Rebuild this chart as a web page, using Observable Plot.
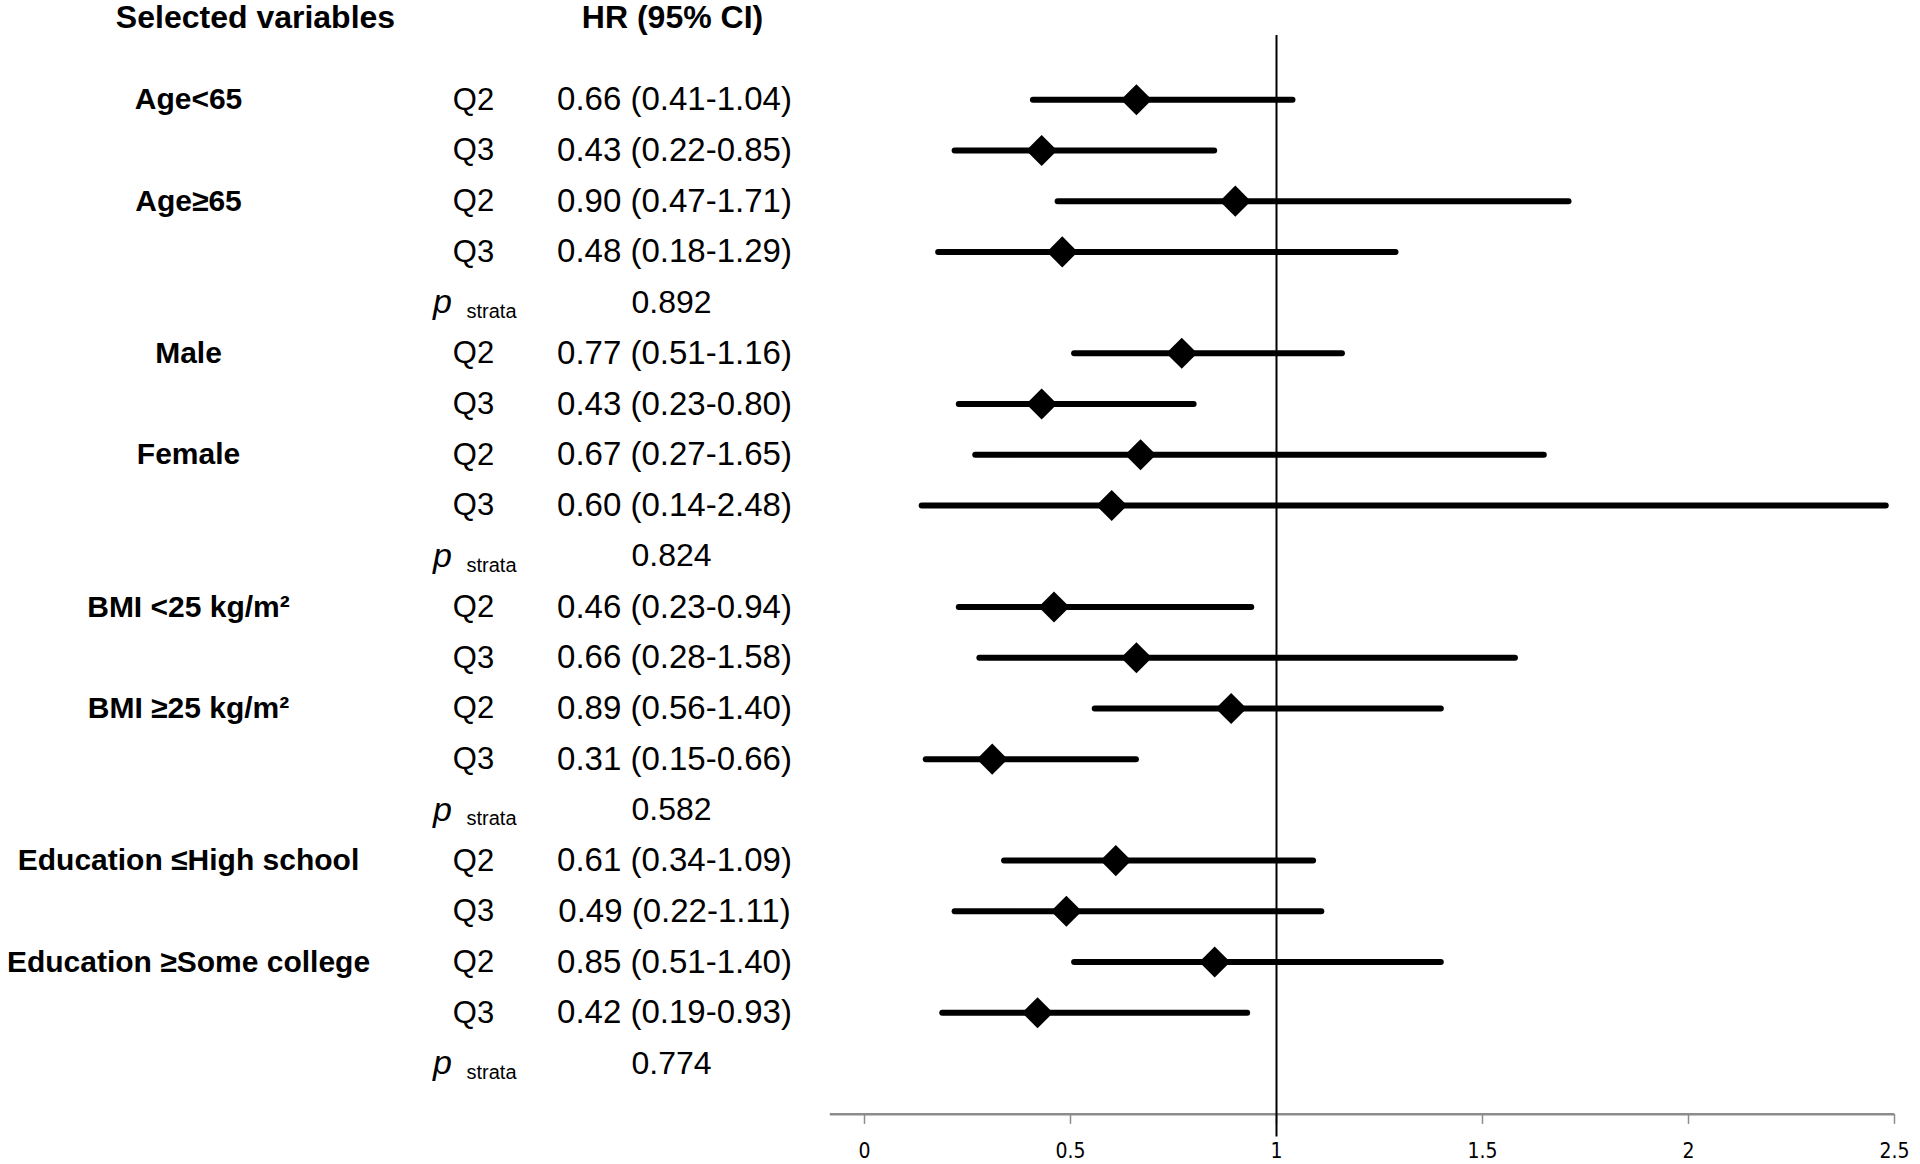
<!DOCTYPE html>
<html>
<head>
<meta charset="utf-8">
<script src="https://cdn.jsdelivr.net/npm/d3@7"></script>
<script src="https://cdn.jsdelivr.net/npm/@observablehq/plot@0.6"></script>
<style>
  html, body { margin: 0; padding: 0; background: #fff; }
  #chart svg { display: block; color: #000; }
</style>
</head>
<body>
<div id="chart"></div>
<script>
// ---- data ----
const groups = ["Age<65", "Age\u226565", "Male", "Female", "BMI <25 kg/m\u00b2", "BMI \u226525 kg/m\u00b2", "Education \u2264High school", "Education \u2265Some college"];
const quartiles = ["Q2", "Q3"];
const hr    = [0.66, 0.43, 0.90, 0.48, 0.77, 0.43, 0.67, 0.60, 0.46, 0.66, 0.89, 0.31, 0.61, 0.49, 0.85, 0.42];
const lower = [0.41, 0.22, 0.47, 0.18, 0.51, 0.23, 0.27, 0.14, 0.23, 0.28, 0.56, 0.15, 0.34, 0.22, 0.51, 0.19];
const upper = [1.04, 0.85, 1.71, 1.29, 1.16, 0.80, 1.65, 2.48, 0.94, 1.58, 1.40, 0.66, 1.09, 1.11, 1.40, 0.93];
const pStrata = ["0.892", "0.824", "0.582", "0.774"];
const headers = ["Selected variables", "HR (95% CI)"];
const xTicks = [0, 0.5, 1, 1.5, 2, 2.5];
const xTickLabels = ["0", "0.5", "1", "1.5", "2", "2.5"];
const axisExtent = [-0.083, 2.5];
const refValue = 1;

// ---- build tables ----
const rows = [];
hr.forEach((v, i) => {
  const g = Math.floor(i / 2), q = i % 2, s = Math.floor(g / 2);
  rows.push({
    row: s * 5 + (g % 2) * 2 + q,
    group: q === 0 ? groups[g] : null,
    quart: quartiles[q],
    hr: v, lo: lower[i], hi: upper[i],
    label: `${v.toFixed(2)} (${lower[i].toFixed(2)}-${upper[i].toFixed(2)})`
  });
});
const groupRows = rows.filter(d => d.group);
const pRows = pStrata.map((p, s) => ({row: s * 5 + 4, p}));
const ticks = xTicks.map((t, i) => ({t, label: xTickLabels[i]}));

const SANS = "'Liberation Sans', Arial, Helvetica, sans-serif";
const AXISF = "'DejaVu Sans Condensed', 'DejaVu Sans', sans-serif";
const axisRow = 20, headerRow = -1.62;

const chart = Plot.plot({
  width: 1920,
  height: 1164,
  marginTop: 0, marginLeft: 0, marginRight: 0, marginBottom: 50,
  x: {domain: [0, 2.5], range: [864, 1894], axis: null},
  y: {domain: [0, 19], range: [99.2, 1063], axis: null},
  style: {background: "#fff", color: "#000"},
  marks: [
    // axis line, ticks, labels
    Plot.ruleY([axisRow], {x1: axisExtent[0], x2: axisExtent[1], stroke: "#8c8c8c", strokeWidth: 2.5}),
    Plot.ruleX(ticks, {x: "t", y1: axisRow, y2: axisRow + 0.2, stroke: "#8c8c8c", strokeWidth: 1.5}),
    Plot.text(ticks, {x: "t", y: () => axisRow + 0.74, text: "label", fontSize: 21, fontFamily: AXISF, fill: "#000"}),
    // reference line at HR = 1
    Plot.ruleX([refValue], {y1: -1.264, y2: 20.45, stroke: "#000", strokeWidth: 2}),
    // CI lines and point estimates
    Plot.ruleY(rows, {y: "row", x1: "lo", x2: "hi", stroke: "#000", strokeWidth: 6, strokeLinecap: "round"}),
    Plot.dot(rows, {x: "hr", y: "row", symbol: "diamond2", r: 14, fill: "#000", stroke: "none"}),
    // headers
    Plot.text([headers[0]], {frameAnchor: "left", dx: 255, y: () => headerRow, text: d => d, textAnchor: "middle", fontWeight: "bold", fontSize: 32, fontFamily: SANS}),
    Plot.text([headers[1]], {frameAnchor: "left", dx: 672, y: () => headerRow, text: d => d, textAnchor: "middle", fontWeight: "bold", fontSize: 32, fontFamily: SANS}),
    // group labels
    Plot.text(groupRows, {frameAnchor: "left", dx: 188, y: "row", text: "group", textAnchor: "middle", fontWeight: "bold", fontSize: 30, fontFamily: SANS}),
    // quartile labels
    Plot.text(rows, {frameAnchor: "left", dx: 473, y: "row", text: "quart", textAnchor: "middle", fontSize: 31, fontFamily: SANS}),
    // HR text
    Plot.text(rows, {frameAnchor: "left", dx: 674, y: "row", text: "label", textAnchor: "middle", fontSize: 33, fontFamily: SANS}),
    // p strata
    Plot.text(pRows, {frameAnchor: "left", dx: 442, y: "row", text: () => "p", textAnchor: "middle", fontStyle: "italic", fontSize: 34, fontFamily: SANS}),
    Plot.text(pRows, {frameAnchor: "left", dx: 466, dy: 9, y: "row", text: () => "strata", textAnchor: "start", fontSize: 20, fontFamily: SANS}),
    Plot.text(pRows, {frameAnchor: "left", dx: 671, y: "row", text: "p", textAnchor: "middle", fontSize: 32, fontFamily: SANS})
  ]
});
document.getElementById("chart").appendChild(chart);
</script>
</body>
</html>
